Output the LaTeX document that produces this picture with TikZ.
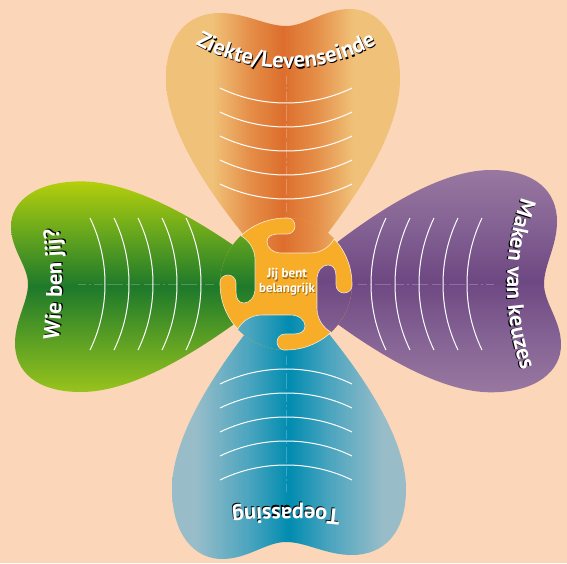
\documentclass[tikz,border=0pt]{standalone}
\usepackage{fontspec}
\setmainfont{PT Sans}
\usetikzlibrary{decorations.text}

\definecolor{peach}{RGB}{251,214,184}
\definecolor{gearyellow}{RGB}{248,173,40}
\definecolor{orE}{RGB}{240,193,120}
\definecolor{orM}{RGB}{229,142,72}
\definecolor{orC}{RGB}{221,110,45}
\definecolor{blE}{RGB}{152,189,201}
\definecolor{blM}{RGB}{70,163,190}
\definecolor{blC}{RGB}{0,140,176}
\definecolor{grS}{RGB}{152,195,28}
\definecolor{grN}{RGB}{180,207,12}
\definecolor{grMS}{RGB}{88,158,36}
\definecolor{grMN}{RGB}{98,164,30}
\definecolor{grC}{RGB}{30,121,42}
\definecolor{puE}{RGB}{152,120,160}
\definecolor{puM}{RGB}{131,97,147}
\definecolor{puC}{RGB}{110,72,130}

\pgfdeclarehorizontalshading{orangeleaf}{100bp}{color(0bp)=(orE); color(35bp)=(orE); color(43bp)=(orM); color(50bp)=(orC); color(57bp)=(orM); color(65bp)=(orE); color(100bp)=(orE)}
\pgfdeclarehorizontalshading{blueleaf}{100bp}{color(0bp)=(blE); color(30bp)=(blE); color(42bp)=(blM); color(50bp)=(blC); color(58bp)=(blM); color(70bp)=(blE); color(100bp)=(blE)}
\pgfdeclareverticalshading{greenleaf}{100bp}{color(0bp)=(grS); color(25bp)=(grS); color(38bp)=(grMS); color(50bp)=(grC); color(62bp)=(grMN); color(75bp)=(grN); color(100bp)=(grN)}
\pgfdeclareverticalshading{purpleleaf}{100bp}{color(0bp)=(puE); color(25bp)=(puE); color(38bp)=(puM); color(50bp)=(puC); color(62bp)=(puM); color(75bp)=(puE); color(100bp)=(puE)}

\newcommand{\leafpath}{(0,0) .. controls (-50,55) and (-120,140) .. (-120,205) .. controls (-120,250) and (-97,271) .. (-66,271) .. controls (-40,271) and (-20,258) .. (0,258) .. controls (20,258) and (38,275) .. (64,275) .. controls (92,275) and (114,250) .. (114,205) .. controls (114,140) and (48,55) .. (0,0) -- cycle}
\newcommand{\leafbox}{(-120,0) rectangle (114,275)}
\newcommand{\notchpath}{(43:66) .. controls (44,38) and (36,31) .. (24,31) -- (-4,31) .. controls (-13,31) and (-19,36) .. (-19,42) .. controls (-19,48) and (-14,50) .. (-7,50) -- (1,50) .. controls (6,50) and (9,54) .. (9,58) .. controls (9,62) and (6,66) .. (88:66)}
\newcommand{\leaffont}{\fontsize{22.5}{22.5}\selectfont\bfseries}

\begin{document}
\begin{tikzpicture}[x=1pt,y=1pt,
  leafline/.style={white,line width=1pt},
  leafaxis/.style={white,opacity=.22,line width=.7pt,dash pattern=on 9pt off 3pt on 2pt off 3pt on 16pt off 4pt},
  gearedge/.style={white,opacity=.8,line width=.6pt},
  leaflabel/.style={decorate,decoration={text along path,text align=center,text={|\leaffont\color{white}|#1}}},
  leafshadow/.style={decorate,opacity=.35,decoration={text along path,text align=center,text={|\leaffont\color{black}|#1}}}]
\useasboundingbox (0,0) rectangle (567,563);
\fill[peach] (0,0) rectangle (567,563);

\begin{scope}[shift={(286,279)}]
  \begin{scope}
    \clip \leafpath;
    \shade[shading=orangeleaf] \leafbox;
  \end{scope}
  \foreach \d in {100,124,...,196}
    \draw[leafline] (-66,\d) .. controls (-25,\d-20) and (25,\d-20) .. (66,\d);
  \draw[leafaxis] (0,72) -- (0,208);
  \path[leafshadow={Ziekte/Levenseinde}] (0.8,399.8) ++(230:185) arc[start angle=230,end angle=310,radius=185];
  \path[leaflabel={Ziekte/Levenseinde}] (0,401) ++(230:185) arc[start angle=230,end angle=310,radius=185];
\end{scope}

\begin{scope}[shift={(286,279)},rotate=-90]
  \begin{scope}
    \clip[xscale=.95] \leafpath;
    \shade[xscale=.95,shading=purpleleaf] \leafbox;
  \end{scope}
  \foreach \d in {100,124,...,196}
    \draw[leafline] (-66,\d) .. controls (-25,\d-20) and (25,\d-20) .. (66,\d);
  \draw[leafaxis] (0,72) -- (0,208);
  \path[leafshadow={Maken van keuzes}] (0.8,479.8) ++(242:260) arc[start angle=242,end angle=298,radius=260];
  \path[leaflabel={Maken van keuzes}] (0,481) ++(242:260) arc[start angle=242,end angle=298,radius=260];
\end{scope}

\begin{scope}[shift={(286,279)},rotate=180]
  \begin{scope}
    \clip \leafpath;
    \shade[shading=blueleaf] \leafbox;
  \end{scope}
  \foreach \d in {100,124,...,196}
    \draw[leafline] (-66,\d) .. controls (-25,\d-20) and (25,\d-20) .. (66,\d);
  \draw[leafaxis] (0,72) -- (0,208);
  \path[leafshadow={Toepassing}] (0.8,721.8) ++(255:500) arc[start angle=255,end angle=285,radius=500];
  \path[leaflabel={Toepassing}] (0,723) ++(255:500) arc[start angle=255,end angle=285,radius=500];
\end{scope}

\begin{scope}[shift={(286,279)},rotate=90]
  \begin{scope}
    \clip[xscale=.9] \leafpath;
    \shade[xscale=.9,shading=greenleaf] \leafbox;
  \end{scope}
  \foreach \d in {100,124,...,196}
    \draw[leafline] (-66,\d) .. controls (-25,\d-20) and (25,\d-20) .. (66,\d);
  \draw[leafaxis] (0,72) -- (0,208);
  \path[leafshadow={Wie ben jij?}] (0.8,722.8) ++(255:500) arc[start angle=255,end angle=285,radius=500];
  \path[leaflabel={Wie ben jij?}] (0,724) ++(255:500) arc[start angle=255,end angle=285,radius=500];
\end{scope}

\fill[gearyellow] (286,279) circle[radius=66];

\begin{scope}[shift={(286,279)}]
  \begin{scope}
    \clip \notchpath arc[start angle=88,end angle=43,radius=66] -- cycle;
    \shade[shading=orangeleaf] \leafbox;
  \end{scope}
  \draw[gearedge] \notchpath arc[start angle=88,end angle=133,radius=66];
\end{scope}
\begin{scope}[shift={(286,279)},rotate=-90]
  \begin{scope}
    \clip \notchpath arc[start angle=88,end angle=43,radius=66] -- cycle;
    \shade[xscale=.95,shading=purpleleaf] \leafbox;
  \end{scope}
  \draw[gearedge] \notchpath arc[start angle=88,end angle=133,radius=66];
\end{scope}
\begin{scope}[shift={(286,279)},rotate=180]
  \begin{scope}
    \clip \notchpath arc[start angle=88,end angle=43,radius=66] -- cycle;
    \shade[shading=blueleaf] \leafbox;
  \end{scope}
  \draw[gearedge] \notchpath arc[start angle=88,end angle=133,radius=66];
\end{scope}
\begin{scope}[shift={(286,279)},rotate=90]
  \begin{scope}
    \clip \notchpath arc[start angle=88,end angle=43,radius=66] -- cycle;
    \shade[xscale=.9,shading=greenleaf] \leafbox;
  \end{scope}
  \draw[gearedge] \notchpath arc[start angle=88,end angle=133,radius=66];
\end{scope}

\node[font=\fontsize{13}{14.5}\selectfont\bfseries,text=black,opacity=.35,align=center] (centreshadow) at (287.8,279.8) {Jij bent\\belangrijk};
\node[font=\fontsize{13}{14.5}\selectfont\bfseries,text=white,align=center] (centre) at (287,281) {Jij bent\\belangrijk};
\end{tikzpicture}
\end{document}
